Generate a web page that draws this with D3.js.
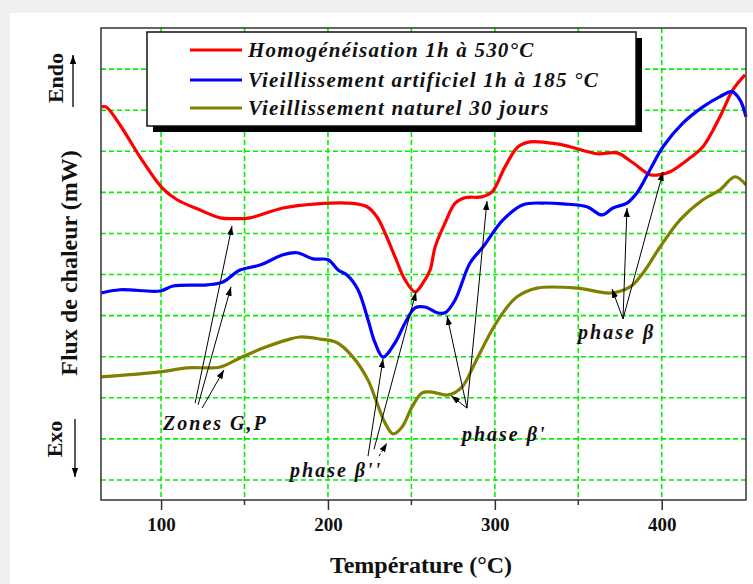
<!DOCTYPE html>
<html>
<head>
<meta charset="utf-8">
<script src="https://cdn.jsdelivr.net/npm/d3@7"></script>
<style>
  body { margin: 0; background: #f0f0f0; }
  svg { display: block; }
</style>
</head>
<body>
<svg id="vis"></svg>
<script>
// values, y in grid units (one unit = one horizontal grid step)
const seriesNames = ["Homogénéisation 1h à 530°C", "Vieillissement artificiel 1h à 185 °C", "Vieillissement naturel 30 jours"];
const seriesColors = ["#ff0000", "#0000ff", "#808000"];

const redT = [64.5, 67, 75.4, 87.4, 100.6, 109.6, 123.4, 135.4, 143.1, 153.3, 173.1, 193.5, 211.4, 223.4, 229.4, 234.2, 240.2, 246.2, 252.2, 257, 261.2, 264.2, 270.2, 276.2, 282.1, 292.3, 298.3, 306.1, 313.9, 321.1, 337.3, 345.1, 361.2, 373.2, 382.8, 393, 399, 405, 417, 424.7, 434.9, 442.7, 449.9];
const redV = [9.08, 9.08, 8.64, 7.86, 7.11, 6.82, 6.57, 6.38, 6.36, 6.38, 6.62, 6.72, 6.74, 6.65, 6.4, 6.01, 5.43, 4.87, 4.58, 4.8, 5.11, 5.67, 6.26, 6.74, 6.87, 6.89, 7.01, 7.62, 8.11, 8.23, 8.18, 8.11, 7.94, 7.96, 7.72, 7.43, 7.43, 7.5, 7.84, 8.11, 8.84, 9.5, 9.86];

const blueT = [64.1, 75.4, 99.4, 107.2, 127.6, 137.1, 147.3, 159.3, 173.1, 181.5, 191.1, 200.1, 206.1, 211.4, 218, 224, 228.2, 233, 240.2, 246.2, 252.2, 258.2, 265.4, 270.2, 276.2, 285.1, 292.9, 304.9, 316.9, 328.9, 340.9, 355.2, 364.2, 370.8, 379.2, 385.2, 393, 400.8, 412.8, 424.7, 434.9, 442.1, 446.9, 450.5];
const blueV = [4.55, 4.63, 4.6, 4.72, 4.75, 4.82, 5.11, 5.23, 5.48, 5.53, 5.38, 5.36, 5.11, 4.99, 4.63, 3.9, 3.34, 2.99, 3.34, 3.82, 4.19, 4.21, 4.07, 4.07, 4.38, 5.28, 5.67, 6.33, 6.7, 6.74, 6.72, 6.65, 6.45, 6.62, 6.74, 6.99, 7.55, 8.11, 8.69, 9.08, 9.33, 9.45, 9.25, 8.84];

const oliveT = [64.1, 99.4, 115.6, 135.4, 147.3, 161.1, 175.5, 183.3, 195.3, 205.5, 215, 224, 229.4, 234.2, 239, 244.4, 250.4, 256.4, 262.4, 272, 280.3, 288.1, 298.3, 306.1, 313.3, 325.3, 349.3, 369, 381, 388.8, 399, 411, 424.7, 434.9, 443.9, 450.5];
const oliveV = [2.51, 2.63, 2.73, 2.75, 2.97, 3.21, 3.41, 3.48, 3.43, 3.34, 2.99, 2.43, 1.87, 1.39, 1.12, 1.29, 1.78, 2.12, 2.14, 2.07, 2.26, 2.85, 3.65, 4.14, 4.46, 4.67, 4.67, 4.55, 4.7, 5.04, 5.67, 6.33, 6.82, 7.06, 7.38, 7.18];

const xTicks = [100, 200, 300, 400];
const xMinorTicks = [150, 250, 350];
const xGrid = [100, 150, 200, 250, 300, 350, 400];
const yGrid = [0, 1, 2, 3, 4, 5, 6, 7, 8, 9, 10];

// annotations: label, label position, arrows [from, to] in data units
const noteLabels = ["Zones G,P", "phase β''", "phase β'", "phase β"];
const notePos = [[101.2, 1.22], [177.3, 0.07], [280.3, 0.95], [349.9, 3.43]];
const noteArrows = [
  [[120.4, 1.87, 142.5, 6.18], [122.2, 1.83, 141.9, 4.70], [124.6, 1.75, 137.7, 2.68]],
  [[224.0, 0.58, 233.0, 2.95], [227.6, 0.75, 252.8, 4.58], [230.6, 0.58, 235.4, 0.90]],
  [[283.3, 1.75, 271.4, 3.99], [283.3, 1.75, 273.8, 2.05], [283.3, 1.75, 295.3, 6.79]],
  [[376.8, 3.92, 370.2, 4.65], [376.8, 3.92, 379.2, 6.62], [376.8, 3.92, 400.8, 7.50]]
];

const width = 753, height = 584;
const plot = {left: 101, right: 746, top: 28, bottom: 500};
const serif = "'Liberation Serif', 'Times New Roman', serif";

const svg = d3.select("#vis").attr("width", width).attr("height", height);

// card
svg.append("rect").attr("width", width).attr("height", height).attr("fill", "#f0f0f0");
svg.append("rect").attr("x", 10).attr("y", 13).attr("width", width - 10).attr("height", height - 13).attr("fill", "#fff");

const x = d3.scaleLinear().domain([64, 450.5]).range([plot.left, plot.right]);
const y = d3.scaleLinear().domain([-0.487, 11]).range([plot.bottom, plot.top]);

const defs = svg.append("defs");
defs.append("marker").attr("id", "head")
  .attr("viewBox", "0 0 10 10").attr("refX", 10).attr("refY", 5)
  .attr("markerWidth", 9).attr("markerHeight", 9).attr("markerUnits", "userSpaceOnUse")
  .attr("orient", "auto")
  .append("path").attr("d", "M0,1.5 L10,5 L0,8.5 Z").attr("fill", "#000");

// grid
const grid = svg.append("g").attr("stroke", "#00f000").attr("stroke-width", 1.6).attr("stroke-dasharray", "5,3");
grid.selectAll(".gx").data(xGrid).enter().append("line")
  .attr("x1", d => x(d)).attr("x2", d => x(d)).attr("y1", plot.top).attr("y2", plot.bottom);
grid.selectAll(".gy").data(yGrid).enter().append("line")
  .attr("x1", plot.left).attr("x2", plot.right).attr("y1", d => y(d)).attr("y2", d => y(d));

// curves
const line = d3.line().x(d => x(d[0])).y(d => y(d[1])).curve(d3.curveCatmullRom.alpha(0.5));
const series = [d3.zip(redT, redV), d3.zip(blueT, blueV), d3.zip(oliveT, oliveV)];
svg.append("g").selectAll("path").data(series).enter().append("path")
  .attr("d", line).attr("fill", "none")
  .attr("stroke", (d, i) => seriesColors[i]).attr("stroke-width", 3.2)
  .attr("stroke-linejoin", "round");

// frame
svg.append("rect").attr("x", plot.left).attr("y", plot.top)
  .attr("width", plot.right - plot.left).attr("height", plot.bottom - plot.top)
  .attr("fill", "none").attr("stroke", "#333").attr("stroke-width", 1.5);

// x axis
const xAxis = svg.append("g").attr("transform", "translate(0," + plot.bottom + ")")
  .call(d3.axisBottom(x).tickValues(xTicks).tickSize(10).tickPadding(8));
xAxis.select(".domain").remove();
xAxis.selectAll("line").attr("stroke", "#333").attr("stroke-width", 1.5);
xAxis.selectAll("text").attr("font-family", serif).attr("font-weight", "bold")
  .attr("font-size", 19).attr("fill", "#111");
svg.append("g").selectAll("line").data(xMinorTicks).enter().append("line")
  .attr("x1", d => x(d)).attr("x2", d => x(d)).attr("y1", plot.bottom).attr("y2", plot.bottom + 5)
  .attr("stroke", "#333").attr("stroke-width", 1.5);

// axis titles
svg.append("text").attr("x", 421).attr("y", 573).attr("text-anchor", "middle")
  .attr("font-family", serif).attr("font-weight", "bold").attr("font-size", 24).attr("fill", "#111")
  .text("Température (°C)");
svg.append("text").attr("transform", "translate(77,263) rotate(-90)").attr("text-anchor", "middle")
  .attr("font-family", serif).attr("font-weight", "bold").attr("font-size", 24).attr("fill", "#111")
  .text("Flux de chaleur (mW)");
svg.append("text").attr("transform", "translate(63,78) rotate(-90)").attr("text-anchor", "middle")
  .attr("font-family", serif).attr("font-weight", "bold").attr("font-size", 22).attr("fill", "#111")
  .text("Endo");
svg.append("text").attr("transform", "translate(62,439) rotate(-90)").attr("text-anchor", "middle")
  .attr("font-family", serif).attr("font-weight", "bold").attr("font-size", 22).attr("fill", "#111")
  .text("Exo");
svg.append("line").attr("x1", 73).attr("x2", 73).attr("y1", 107).attr("y2", 55)
  .attr("stroke", "#000").attr("stroke-width", 1.3).attr("marker-end", "url(#head)");
svg.append("line").attr("x1", 75).attr("x2", 75).attr("y1", 419).attr("y2", 477)
  .attr("stroke", "#000").attr("stroke-width", 1.3).attr("marker-end", "url(#head)");

// legend
const lg = svg.append("g");
lg.append("rect").attr("x", 153).attr("y", 38).attr("width", 489).attr("height", 94).attr("fill", "#000");
lg.append("rect").attr("x", 147).attr("y", 32).attr("width", 489).attr("height", 94)
  .attr("fill", "#fff").attr("stroke", "#111").attr("stroke-width", 1.5);
const rowY = [50, 80, 108];
seriesNames.forEach((name, i) => {
  lg.append("line").attr("x1", 190).attr("x2", 242).attr("y1", rowY[i]).attr("y2", rowY[i])
    .attr("stroke", seriesColors[i]).attr("stroke-width", 3.2);
  lg.append("text").attr("x", 248).attr("y", rowY[i] + 7)
    .attr("font-family", serif).attr("font-weight", "bold").attr("font-style", "italic")
    .attr("font-size", 21).attr("letter-spacing", 1.2).attr("fill", "#111")
    .text(name);
});

// annotations
const ann = svg.append("g");
noteArrows.forEach((group, k) => {
  ann.selectAll(null).data(group).enter().append("line")
    .attr("x1", d => x(d[0])).attr("y1", d => y(d[1]))
    .attr("x2", d => x(d[2])).attr("y2", d => y(d[3]))
    .attr("stroke", "#000").attr("stroke-width", 1)
    .attr("stroke-dasharray", (d, i) => (k === 1 && i === 2) ? "3,2" : null)
    .attr("marker-end", "url(#head)");
});
ann.selectAll("text").data(noteLabels).enter().append("text")
  .attr("x", (d, i) => x(notePos[i][0])).attr("y", (d, i) => y(notePos[i][1]))
  .attr("font-family", serif).attr("font-weight", "bold").attr("font-style", "italic")
  .attr("font-size", 20).attr("letter-spacing", 2).attr("fill", "#111")
  .text(d => d);
</script>
</body>
</html>
